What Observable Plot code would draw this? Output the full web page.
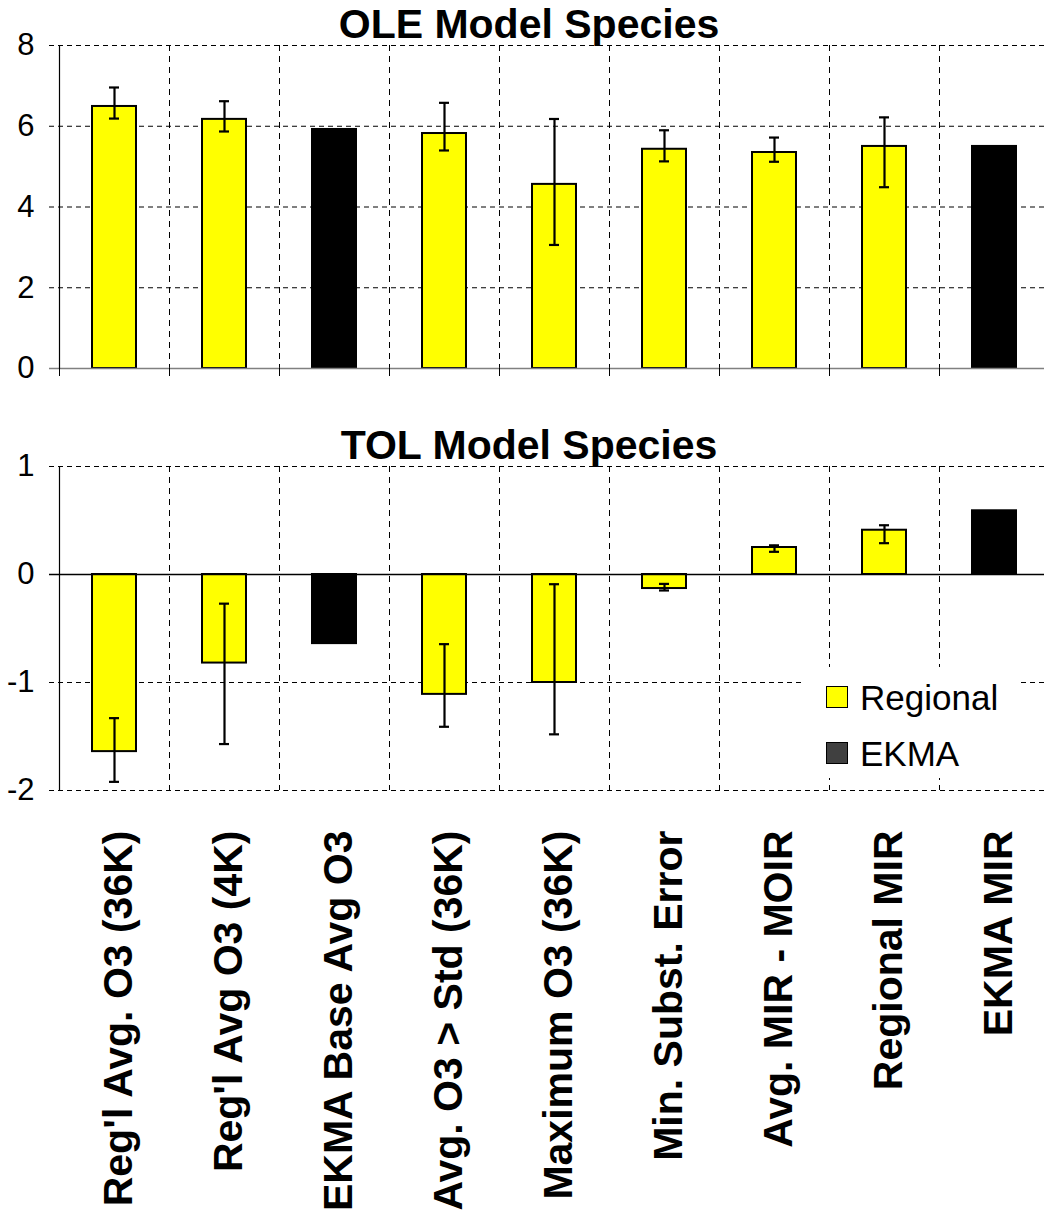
<!DOCTYPE html>
<html><head><meta charset="utf-8">
<script src="https://cdn.jsdelivr.net/npm/d3@7"></script>
<script src="https://cdn.jsdelivr.net/npm/@observablehq/plot@0.6"></script>
<style>
body{margin:0;background:#fff;font-family:"Liberation Sans",Arial,sans-serif;}
#wrap{position:relative;width:1044px;height:1213px;overflow:hidden;background:#fff;}
#wrap svg{display:block;}
.title{position:absolute;font-weight:bold;font-size:41px;line-height:1;white-space:nowrap;transform:translateX(-50%);color:#000;}
.legend{position:absolute;left:805px;top:667px;width:212px;height:111px;background:#fff;}
.sw{position:absolute;left:21px;width:20px;height:20px;border:1.5px solid #000;}
.lt{position:absolute;left:55px;font-size:35px;line-height:1;white-space:nowrap;color:#000;}
</style></head><body><div id="wrap"></div>
<script>
const categories = ["Reg'l Avg. O3 (36K)", "Reg'l Avg O3 (4K)", "EKMA Base Avg O3", "Avg. O3 > Std (36K)", "Maximum O3 (36K)", "Min. Subst. Error", "Avg. MIR - MOIR", "Regional MIR", "EKMA MIR"];
const groups = ["Regional","Regional","EKMA","Regional","Regional","Regional","Regional","Regional","EKMA"];
const oleValues = [6.49, 6.17, 5.92, 5.82, 4.56, 5.43, 5.35, 5.50, 5.50];
const oleLow    = [6.19, 5.87, null, 5.40, 3.06, 5.13, 5.12, 4.49, null];
const oleHigh   = [6.96, 6.62, null, 6.58, 6.18, 5.90, 5.72, 6.22, null];
const tolValues = [-1.64, -0.82, -0.64, -1.11, -1.00, -0.13, 0.25, 0.41, 0.59];
const tolLow    = [-1.92, -1.57, null, -1.41, -1.48, -0.148, 0.21, 0.29, null];
const tolHigh   = [-1.33, -0.27, null, -0.645, -0.09, -0.087, 0.27, 0.456, null];
const oleTicks = [0, 2, 4, 6, 8];
const tolTicks = [-2, -1, 0, 1];
const groupNames = ["Regional", "EKMA"];
const groupColors = ["#ffff00", "#000000"];
const legendColors = ["#ffff00", "#404040"];
const titles = ["OLE Model Species", "TOL Model Species"];

const FONT = "Liberation Sans, Arial, Helvetica, sans-serif";
const wrap = document.getElementById("wrap");
const half = 55;

function panel({values, low, high, domain, ticks, height, marginTop, marginBottom, zeroColor, bottomAxis, catTicks}) {
  const data = categories.map((c, i) => ({cat: c, group: groups[i], value: values[i], low: low[i], high: high[i]}));
  const err = data.filter(d => d.low != null);
  const marks = [
    Plot.ruleY(ticks.filter(t => t !== 0), {y: d => d, stroke: "#000", strokeWidth: 1, strokeDasharray: "5,4", insetLeft: -10}),
    Plot.ruleX(categories.slice(1), {x: d => d, dx: -half, stroke: "#000", strokeWidth: 1, strokeDasharray: "6,5"}),
    Plot.barY(data, {x: "cat", y: "value", fill: "group", stroke: "#000", strokeWidth: 2, insetLeft: 33, insetRight: 33}),
    Plot.ruleY([0], {y: d => d, stroke: zeroColor, strokeWidth: 1.5, insetLeft: -10}),
    Plot.frame({anchor: "left", stroke: "#000", strokeWidth: 1.2}),
    Plot.ruleX(err, {x: "cat", y1: "low", y2: "high", stroke: "#000", strokeWidth: 2.2}),
    Plot.tickY(err, {x: "cat", y: "low", stroke: "#000", strokeWidth: 2.2, insetLeft: 50, insetRight: 50}),
    Plot.tickY(err, {x: "cat", y: "high", stroke: "#000", strokeWidth: 2.2, insetLeft: 50, insetRight: 50}),
    Plot.axisY({ticks: ticks, tickSize: 0, tickPadding: 25, fontSize: 31, label: null, tickFormat: d => String(d)})
  ];
  if (catTicks) {
    marks.push(Plot.ruleX(categories, {x: d => d, dx: -half, stroke: "#000", strokeWidth: 1, insetTop: height - marginTop - marginBottom, insetBottom: -8}));
  }
  if (bottomAxis) {
    marks.push(Plot.axisX({anchor: "bottom", tickRotate: -90, tickSize: 0, tickPadding: 40, fontSize: 41, fontWeight: "bold", label: null, dx: 4}));
  }
  return Plot.plot({
    width: 1044,
    height,
    marginTop,
    marginBottom,
    marginLeft: 59,
    marginRight: 0,
    style: {fontFamily: FONT, background: "white", overflow: "hidden", color: "#000"},
    x: {type: "band", domain: categories, range: [59, 1049], padding: 0, axis: null},
    y: {domain, axis: null},
    color: {domain: groupNames, range: groupColors},
    marks
  });
}

wrap.appendChild(panel({values: oleValues, low: oleLow, high: oleHigh, domain: [0, 8], ticks: oleTicks, height: 400, marginTop: 45, marginBottom: 32, zeroColor: "#808080", bottomAxis: false, catTicks: true}));
wrap.appendChild(panel({values: tolValues, low: tolLow, high: tolHigh, domain: [-2, 1], ticks: tolTicks, height: 813, marginTop: 66, marginBottom: 423, zeroColor: "#000", bottomAxis: true, catTicks: false}));

const tops = [4, 425];
titles.forEach((t, i) => {
  const d = document.createElement("div");
  d.className = "title";
  d.textContent = t;
  d.style.left = "529px";
  d.style.top = tops[i] + "px";
  wrap.appendChild(d);
});

const lg = document.createElement("div");
lg.className = "legend";
groupNames.forEach((g, i) => {
  const sw = document.createElement("div");
  sw.className = "sw";
  sw.style.top = (19 + i * 56) + "px";
  sw.style.background = legendColors[i];
  lg.appendChild(sw);
  const t = document.createElement("div");
  t.className = "lt";
  t.textContent = g;
  t.style.top = (13 + i * 56) + "px";
  lg.appendChild(t);
});
wrap.appendChild(lg);
</script>
</body></html>
